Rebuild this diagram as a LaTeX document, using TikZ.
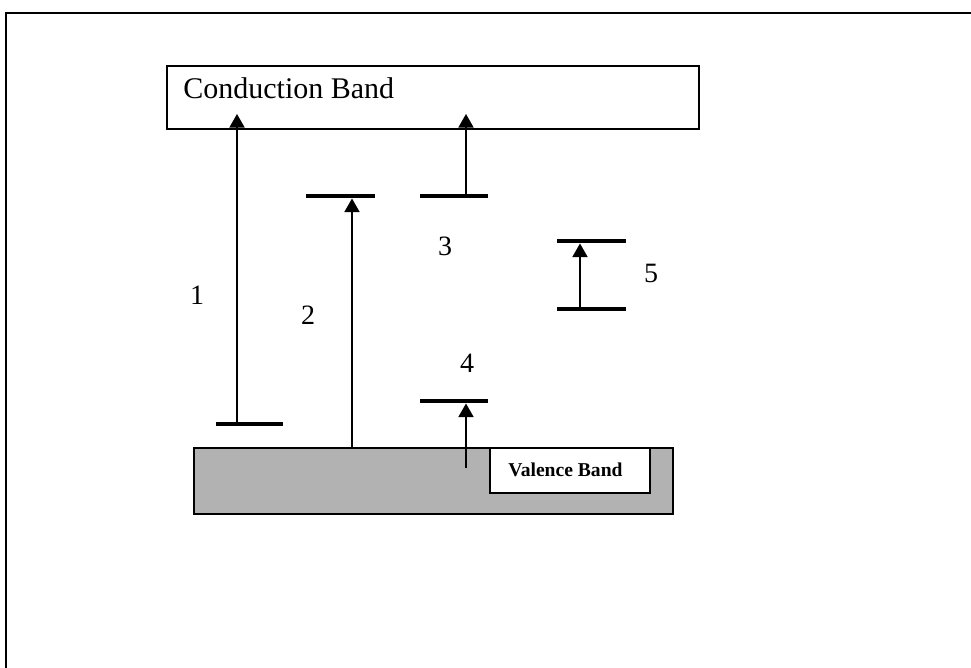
\documentclass[tikz,border=0pt]{standalone}
\usepackage{fontspec}
\setmainfont{Liberation Serif}
\usetikzlibrary{arrows.meta}
\tikzset{
  band/.style={draw=black, line width=1pt},
  level/.style={line width=2.3pt},
  trans/.style={line width=0.9pt, -{Triangle[length=6.8pt,width=7.5pt]}},
  lbl/.style={font=\fontsize{14}{14}\selectfont, anchor=base, inner sep=0pt},
}
\begin{document}
\begin{tikzpicture}[x=0.5pt,y=-0.5pt]
\useasboundingbox (0,0) rectangle (971,668);
% outer frame (top and left)
\draw[line width=1.2pt] (971,13) -- (6,13) -- (6,668);
% conduction band
\node[band, minimum width=266pt, minimum height=31.5pt, inner sep=0pt, anchor=north west] (cb) at (166,65) {};
\node[anchor=base west, inner sep=0pt, font=\fontsize{15}{15}\selectfont] (cbt) at (183,99) {Conduction Band};
% valence band
\node[band, fill=black!30, minimum width=239.5pt, minimum height=33pt, inner sep=0pt, anchor=north west] (vb) at (193,447) {};
\node[band, fill=white, minimum width=80pt, minimum height=22.5pt, inner sep=0pt, anchor=north west] (vbw) at (489,447) {};
\node[anchor=base west, inner sep=0pt, font=\fontsize{9.8}{10}\selectfont\bfseries] (vbt) at (508,477) {Valence Band};
% levels
\coordinate (l1a) at (216,424); \coordinate (l1b) at (283,424);
\coordinate (l2a) at (306,196); \coordinate (l2b) at (375,196);
\coordinate (l3a) at (420,196); \coordinate (l3b) at (488,196);
\coordinate (l4a) at (420,401); \coordinate (l4b) at (488,401);
\coordinate (l5a) at (557,241); \coordinate (l5b) at (626,241);
\coordinate (l6a) at (557,309); \coordinate (l6b) at (626,309);
\foreach \a/\b in {l1a/l1b,l2a/l2b,l3a/l3b,l4a/l4b,l5a/l5b,l6a/l6b}
  \draw[level] (\a) -- (\b);
% transition coordinates
\coordinate (s1) at (237,424); \coordinate (e1) at (237,114);
\coordinate (s2) at (352,447); \coordinate (e2) at (352,198.5);
\coordinate (s3) at (466,196); \coordinate (e3) at (466,114);
\coordinate (s4) at (466,468); \coordinate (e4) at (466,403.5);
\coordinate (s5) at (580,309); \coordinate (e5) at (580,243.5);
\draw[trans] (s1) -- (e1);
\draw[trans] (s2) -- (e2);
\draw[trans] (s3) -- (e3);
\draw[trans] (s4) -- (e4);
\draw[trans] (s5) -- (e5);
% labels
\node[lbl] (n1) at (197,305) {1};
\node[lbl] (n2) at (308,325) {2};
\node[lbl] (n3) at (445,256) {3};
\node[lbl] (n4) at (467,373) {4};
\node[lbl] (n5) at (651,283) {5};
\end{tikzpicture}
\end{document}
